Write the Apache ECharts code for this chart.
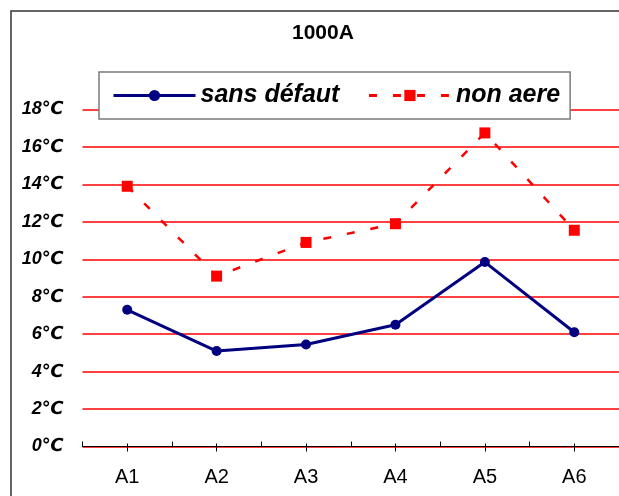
<!DOCTYPE html>
<html>
<head>
<meta charset="utf-8">
<script src="https://cdn.jsdelivr.net/npm/echarts@6/dist/echarts.min.js"></script>
<style>
  html, body { margin: 0; padding: 0; background: #fff; }
  #chart { width: 619px; height: 496px; }
</style>
</head>
<body>
<div id="chart"></div>
<script>
// Temperature rise per measuring point at 1000 A
const categories = ['A1', 'A2', 'A3', 'A4', 'A5', 'A6'];
const sansDefaut = [7.3, 5.1, 5.45, 6.5, 9.85, 6.1];
const nonAere = [13.9, 9.1, 10.9, 11.9, 16.75, 11.55];
const yTicks = { min: 0, max: 18, step: 2 };
const unit = '℃';

const FONT = 'Liberation Sans, Arial, DejaVu Sans, sans-serif';

const chart = echarts.init(document.getElementById('chart'), null, { renderer: 'canvas' });

const hiddenAxisBase = {
  type: 'category',
  data: categories,
  position: 'bottom',
  gridIndex: 0,
  axisLine: { show: false },
  axisLabel: { show: false },
  splitLine: { show: false }
};

chart.setOption({
  backgroundColor: '#fff',
  animation: false,
  title: {
    text: '1000A',
    left: 292,
    top: 23,
    padding: 0,
    textStyle: { fontFamily: FONT, fontSize: 21, fontWeight: 'bold', color: '#000' }
  },
  legend: {
    left: 99,
    top: 72,
    padding: [11, 10, 11, 13],
    itemGap: 28,
    itemWidth: 82,
    itemHeight: 14,
    backgroundColor: '#fff',
    borderColor: '#7a7a7a',
    borderWidth: 1.5,
    borderRadius: 0,
    lineStyle: { width: 3 },
    textStyle: { fontFamily: FONT, fontSize: 25, fontWeight: 'bold', fontStyle: 'italic', color: '#000' },
    data: ['sans défaut', 'non aere']
  },
  grid: {
    left: 82.5,
    top: 109.5,
    width: 548,
    height: 337,
    containLabel: false
  },
  xAxis: [
    {
      type: 'category',
      data: categories,
      boundaryGap: true,
      axisLine: { show: true, lineStyle: { color: '#000', width: 1 } },
      axisTick: { show: true, inside: true, length: 5, lineStyle: { color: '#000', width: 1 } },
      axisLabel: { fontFamily: FONT, fontSize: 20, color: '#000', margin: 21 },
      splitLine: { show: false }
    },
    Object.assign({}, hiddenAxisBase, {
      axisTick: { show: true, alignWithLabel: true, inside: false, length: 5, lineStyle: { color: '#000', width: 1 } }
    }),
    Object.assign({}, hiddenAxisBase, {
      axisTick: { show: true, alignWithLabel: true, inside: true, length: 3, lineStyle: { color: '#000', width: 1 } }
    })
  ],
  yAxis: {
    type: 'value',
    min: yTicks.min,
    max: yTicks.max,
    interval: yTicks.step,
    axisLine: { show: false },
    axisTick: { show: false },
    axisLabel: {
      formatter: '{value}' + unit,
      fontFamily: FONT,
      fontSize: 18,
      fontWeight: 'bold',
      fontStyle: 'italic',
      color: '#000',
      margin: 19
    },
    splitLine: { show: true, lineStyle: { color: '#ff0000', width: 1.5 } }
  },
  graphic: [
    {
      type: 'rect',
      silent: true,
      z: 100,
      shape: { x: 11, y: 11, width: 700, height: 600 },
      style: { fill: 'none', stroke: '#333', lineWidth: 1.5 }
    }
  ],
  series: [
    {
      name: 'sans défaut',
      type: 'line',
      data: sansDefaut,
      symbol: 'circle',
      symbolSize: 10,
      lineStyle: { color: '#000080', width: 3 },
      itemStyle: { color: '#000080' },
      z: 3
    },
    {
      name: 'non aere',
      type: 'line',
      data: nonAere,
      symbol: 'rect',
      symbolSize: 11,
      lineStyle: { color: '#ff0000', width: 2.5, type: [8, 16] },
      itemStyle: { color: '#ff0000' },
      z: 2
    }
  ]
});
</script>
</body>
</html>
